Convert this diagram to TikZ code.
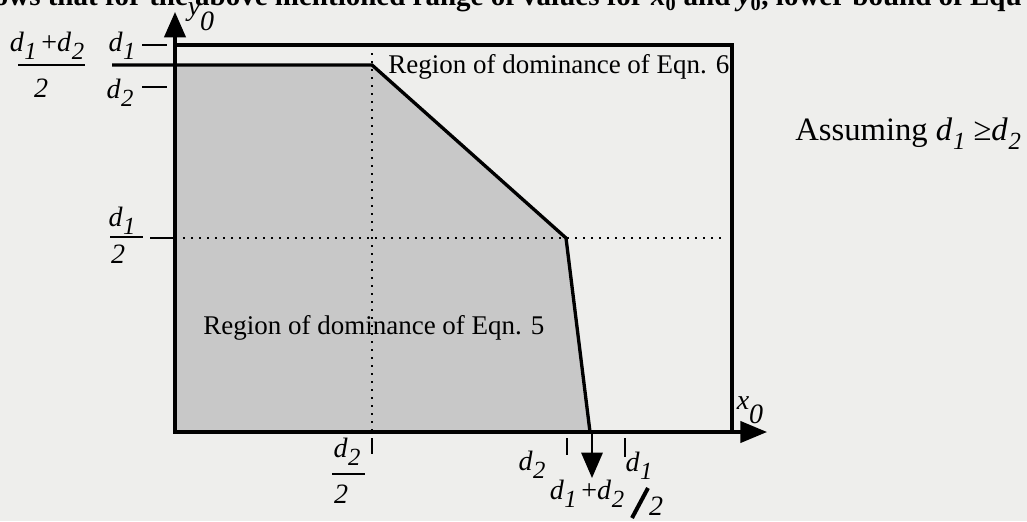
\documentclass[tikz,border=0pt]{standalone}
\usepackage{fontspec}
\setmainfont{Liberation Serif}
\usetikzlibrary{arrows.meta}
\definecolor{paper}{RGB}{238,238,236}
\definecolor{regiongray}{RGB}{200,200,200}
\newcommand{\sublab}[2]{\textit{#1}\kern0.02em\raisebox{-0.3em}{\fontsize{18.5pt}{18.5pt}\selectfont\textit{#2}}}
\begin{document}
\begin{tikzpicture}[x=0.75pt,y=-0.75pt,
  lab/.style={inner sep=0pt, font=\fontsize{21pt}{23pt}\selectfont},
  axisline/.style={line width=2.3pt, {Triangle[length=19pt,width=16pt]}-{Triangle[length=20pt,width=16pt]}},
  bound/.style={line width=2.5pt},
  boxline/.style={line width=2.3pt},
  dotline/.style={line width=1.6pt, dash pattern=on 1.8pt off 4.2pt},
  tickline/.style={line width=1.9pt},
  fracbar/.style={line width=2.2pt},
]
\path[use as bounding box, fill=paper] (0,0) rectangle (1027,521);

% cut-off line of running text at the top
\node[anchor=base east, inner sep=0pt, font=\bfseries\fontsize{21.75pt}{24pt}\selectfont] (topline) at (1022,6)
  {shows that for the above mentioned range of values for \textit{x}\textsubscript{0} and \textit{y}\textsubscript{0}, lower bound of Equ};

% key points
\coordinate (O) at (175,432);
\coordinate (ytip) at (175,12);
\coordinate (xtip) at (767,432);
\coordinate (A) at (175,65);
\coordinate (B) at (372,65);
\coordinate (C) at (566,238);
\coordinate (D) at (590,432);
\coordinate (Aleft) at (112,65);
\coordinate (boxTL) at (175,45);
\coordinate (boxTR) at (732,45);
\coordinate (boxBR) at (732,432);
\coordinate (vtop) at (372,45);
\coordinate (vbot) at (372,432);
\coordinate (hleft) at (175,238);
\coordinate (hright) at (722,238);

% shaded region
\fill[regiongray] (O) -- (A) -- (B) -- (C) -- (D) -- cycle;

% dotted guides
\draw[dotline] (vtop) -- (vbot);
\draw[dotline] (hleft) -- (hright);

% box
\draw[boxline] (boxTL) -- (boxTR) -- (boxBR);

% boundary of region
\draw[bound, line join=miter] (Aleft) -- (A) -- (B) -- (C) -- (D);

% axes
\draw[axisline, line join=miter] (ytip) -- (O) -- (xtip);

% left ticks
\coordinate (t1a) at (142,45); \coordinate (t1b) at (167,45);
\coordinate (t2a) at (142,87); \coordinate (t2b) at (167,87);
\coordinate (t3a) at (150,238); \coordinate (t3b) at (175,238);
\draw[tickline] (t1a) -- (t1b);
\draw[tickline] (t2a) -- (t2b);
\draw[tickline] (t3a) -- (t3b);

% bottom ticks
\coordinate (b1a) at (372,438); \coordinate (b1b) at (372,454);
\coordinate (b2a) at (567,438); \coordinate (b2b) at (567,455);
\coordinate (b3a) at (625,438); \coordinate (b3b) at (625,457);
\draw[tickline] (b1a) -- (b1b);
\draw[tickline] (b2a) -- (b2b);
\draw[tickline] (b3a) -- (b3b);

% down arrow
\coordinate (arrA) at (592,432);
\coordinate (arrB) at (592,478);
\draw[line width=1.5pt, -{Triangle[length=19pt,width=16pt]}] (arrA) -- (arrB);

% fraction bars and slash
\coordinate (f1a) at (18,65); \coordinate (f1b) at (85,65);
\coordinate (f2a) at (110,237); \coordinate (f2b) at (143,237);
\coordinate (f3a) at (332,474); \coordinate (f3b) at (365,474);
\draw[fracbar] (f1a) -- (f1b);
\draw[fracbar] (f2a) -- (f2b);
\draw[fracbar] (f3a) -- (f3b);
\coordinate (s1) at (632,518); \coordinate (s2) at (648,488);
\draw[line width=3pt] (s1) -- (s2);

% axis labels
\node[lab] (ylab) at (201,17) {\textit{y}\raisebox{-0.55em}{\textit{0}}};
\node[lab] (xlab) at (750,410) {\textit{x}\raisebox{-0.5em}{\textit{0}}};

% left labels
\node[lab] (ld1) at (122,46) {\sublab{d}{1}};
\node[lab] (ld2) at (120,93) {\sublab{d}{2}};
\node[lab] (lnum) at (47,46) {\sublab{d}{1}\,+\sublab{d}{2}};
\node[lab] (lden) at (41,88) {\textit{2}};
\node[lab] (lhnum) at (122,221) {\sublab{d}{1}};
\node[lab] (lhden) at (118,254) {\textit{2}};

% bottom labels
\node[lab] (bnum) at (347,452) {\sublab{d}{2}};
\node[lab] (bden) at (341,494) {\textit{2}};
\node[lab] (bd2) at (532,465) {\sublab{d}{2}};
\node[lab] (bd1) at (639,466) {\sublab{d}{1}};
\node[lab] (bsum) at (587,494) {\sublab{d}{1}\,+\sublab{d}{2}};
\node[lab] (btwo) at (656,506) {\textit{2}};

% region texts
\node[anchor=base west, inner sep=0pt, font=\fontsize{20.25pt}{22pt}\selectfont] (r6) at (388,73) {Region of dominance of Eqn. 6};
\node[anchor=base west, inner sep=0pt, font=\fontsize{20.25pt}{22pt}\selectfont] (r5) at (203,334) {Region of dominance of Eqn. 5};
\node[anchor=base west, inner sep=0pt, font=\fontsize{24.5pt}{26pt}\selectfont] (assume) at (795,140) {Assuming \sublab{d}{1} ≥\sublab{d}{2}};
\end{tikzpicture}
\end{document}
